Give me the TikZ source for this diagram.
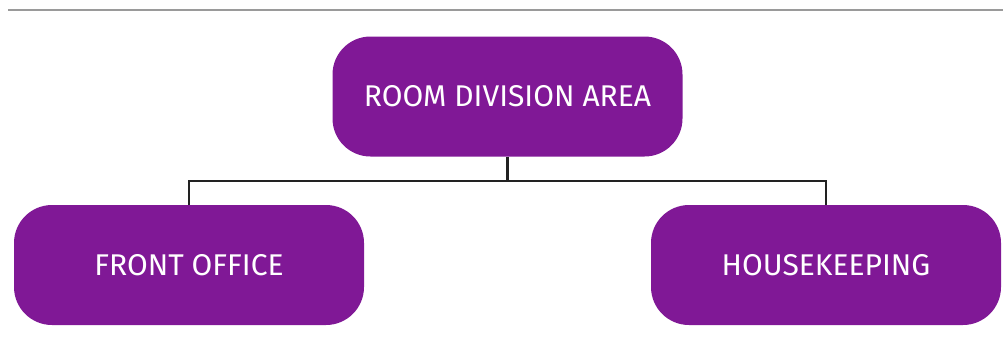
\documentclass[tikz,border=0pt]{standalone}
\usepackage{fontspec}
\setmainfont{Fira Sans}
\definecolor{boxpurple}{HTML}{801896}
\definecolor{rulegray}{HTML}{9A9A9A}
\definecolor{linkdark}{HTML}{222222}
\begin{document}
\begin{tikzpicture}[x=1pt,y=-1pt,
  unit/.style={draw=none,fill=boxpurple,rounded corners=38pt,minimum width=350pt,minimum height=120pt,inner sep=0pt,text=white,font=\fontsize{30}{34}\selectfont},
  link/.style={draw=linkdark,line width=2.4pt}]
\useasboundingbox (0,0) rectangle (1003,349);
\draw[rulegray,line width=2pt] (8,10) -- (1003,10);
\node[unit] (top) at (507.5,96.5) {ROOM DIVISION AREA};
\node[unit] (fo) at (189,265) {FRONT OFFICE};
\node[unit] (hk) at (826,265) {HOUSEKEEPING};
\coordinate (mid) at (507.5,181);
\draw[link] (top.south) -- (mid);
\draw[link] (fo.north) |- (mid) -| (hk.north);
\end{tikzpicture}
\end{document}
